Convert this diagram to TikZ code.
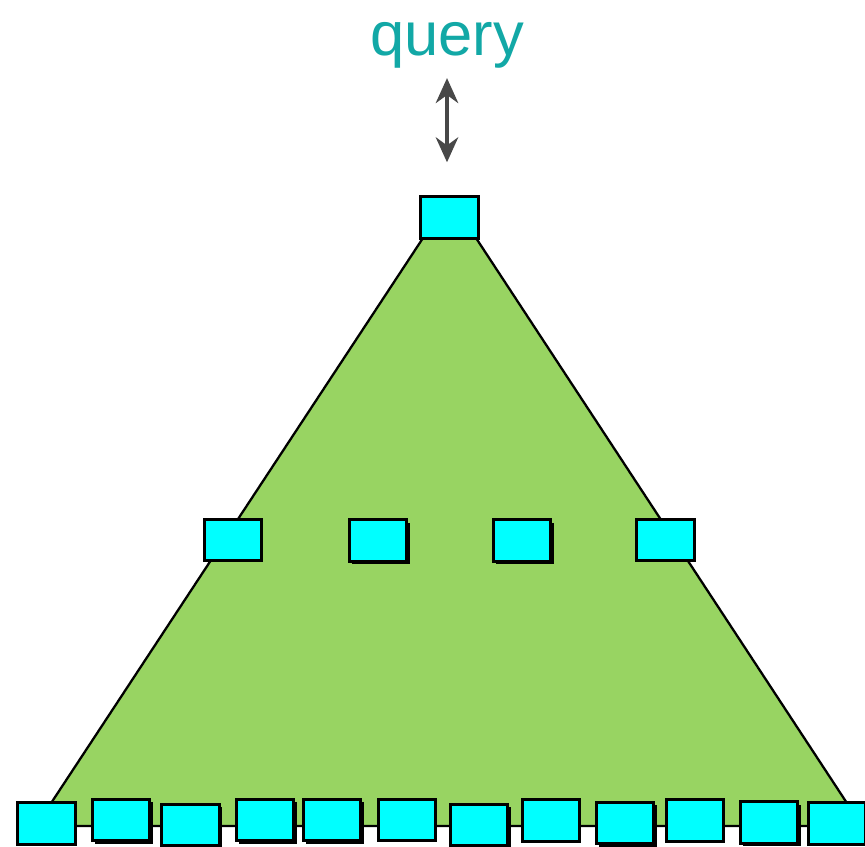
\documentclass[tikz,border=0pt]{standalone}
\usepackage{fontspec}
\setmainfont{Liberation Sans}
\usetikzlibrary{arrows.meta,shadows}
\definecolor{treegreen}{RGB}{152,212,98}
\definecolor{cellcyan}{RGB}{0,255,255}
\definecolor{querycol}{RGB}{18,168,166}
\definecolor{arrowgray}{RGB}{72,72,72}

\begin{document}
\begin{tikzpicture}[
    x=0.02cm, y=-0.02cm,
    cell/.style={draw, fill=cellcyan, line width=1.7pt, minimum width=1.15cm, minimum height=0.83cm, inner sep=0pt},
    scell/.style={cell, drop shadow={shadow xshift=1.6pt, shadow yshift=-1.6pt, fill=black, opacity=1}},
    >={Stealth[length=5mm, width=4.5mm]}
  ]
  \useasboundingbox (0,0) rectangle (865,846);

  % the tree
  \filldraw[fill=treegreen, line width=1.3pt] (423,238) -- (476,238) -- (862,826) -- (36,826) -- cycle;

  \node[querycol, font=\fontsize{35}{40}\selectfont, inner sep=0pt, anchor=base] (query) at (447,55) {query};

  \node[cell] (root) at (449.5,217.5) {};

  \node[cell]  (mid1) at (233,540) {};
  \node[scell] (mid2) at (378,540.5) {};
  \node[scell] (mid3) at (522,540.5) {};
  \node[cell]  (mid4) at (665.5,540) {};

  % leaves
  \foreach \i/\x/\y/\s in {1/46.5/823.5/cell, 2/121/820/scell, 3/190.5/825/scell,
      4/265/820/scell, 5/332/820/scell, 6/407/820/cell, 7/479/825/scell,
      8/551/820.5/cell, 9/625/823/scell, 10/695/820.5/cell, 11/769/822.5/scell,
      12/837/823.5/cell}
    \node[\s] (leaf\i) at (\x,\y) {};

  \draw[<->, arrowgray, line width=2pt, shorten <=0.2cm, shorten >=0.66cm] (query.south) -- (query.south |- root.north);
\end{tikzpicture}
\end{document}
